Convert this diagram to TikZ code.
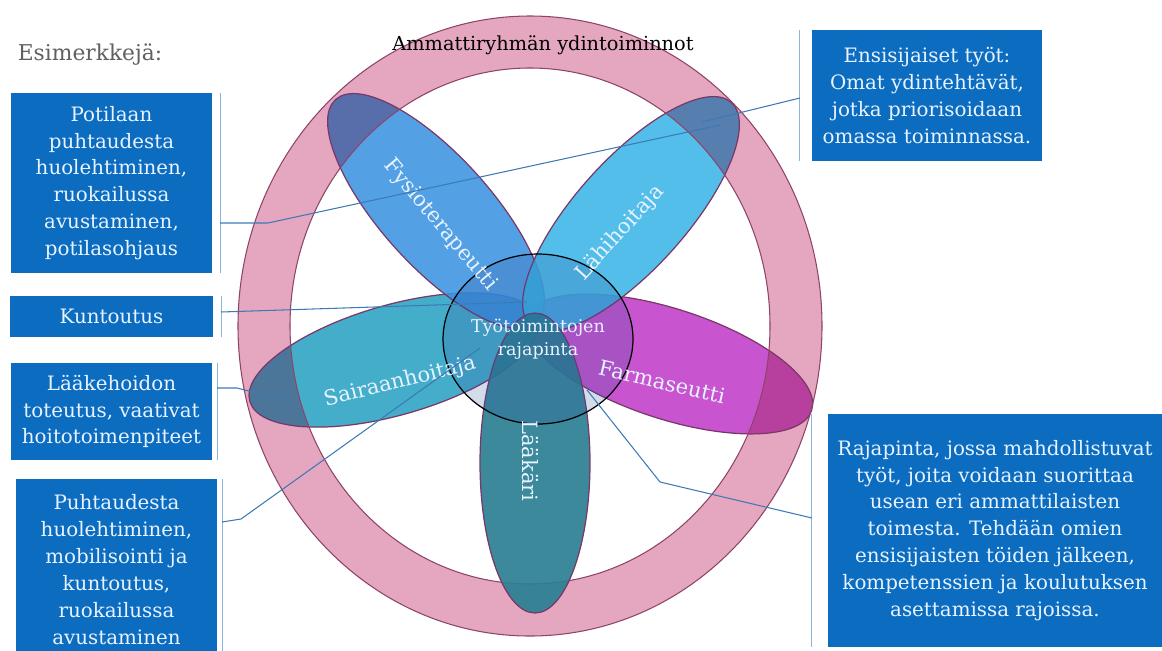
\documentclass[tikz,border=0pt]{standalone}
\usepackage{fontspec}
\setmainfont{DejaVu Serif}
\usepackage{tikz}
\usetikzlibrary{shapes.geometric}

\definecolor{boxblue}{HTML}{0B6CC0}
\definecolor{boxtext}{HTML}{E8F3FF}
\definecolor{ringpink}{HTML}{E4A7BF}
\definecolor{ringline}{HTML}{8E4468}
\definecolor{petalline}{HTML}{7A3868}
\definecolor{fysioC}{HTML}{3B93E0}
\definecolor{lahiC}{HTML}{3AB5E6}
\definecolor{sairC}{HTML}{2AA2C2}
\definecolor{farmaC}{HTML}{C13CC9}
\definecolor{laakC}{HTML}{2A7F93}
\definecolor{coreC}{HTML}{2A4C9A}
\definecolor{leaderC}{HTML}{3D79B5}
\definecolor{barC}{HTML}{8DB6DA}
\definecolor{noteC}{HTML}{606060}

\begin{document}
\begin{tikzpicture}[
    x=0.02cm, y=-0.02cm,
    box/.style    = {rectangle, fill=boxblue, text=boxtext, inner sep=0pt,
                     align=center, font=\fontsize{11.3}{15.3}\selectfont},
    petal/.style  = {ellipse, draw=petalline, line width=0.7pt, fill opacity=0.88,
                     inner sep=0pt, minimum width=6cm, minimum height=2.2cm},
    plbl/.style   = {text=boxtext, inner sep=0pt, font=\fontsize{12}{14}\selectfont},
    ringpath/.style = {draw=ringline, line width=0.6pt},
    leader/.style = {draw=leaderC, line width=0.6pt},
    bar/.style    = {draw=barC, line width=0.9pt}
]
\useasboundingbox (0,0) rectangle (1162,650);

% ring of core functions
\coordinate (ringc) at (530,326);
\fill[ringpink, even odd rule] (ringc) ellipse [x radius=292, y radius=310]
                               (ringc) ellipse [x radius=240, y radius=258];

% petals
\node[petal, fill=farmaC, rotate=-18] (farma) at (669,364) {};
\node[petal, fill=sairC,  rotate=16]  (sair)  at (394,360) {};
\node[petal, fill=fysioC, rotate=-48] (fysio) at (436,211) {};
\node[petal, fill=lahiC,  rotate=48]  (lahi)  at (631,214) {};

% petal ends tinted where they lie on the ring
\begin{scope}[even odd rule]
  \clip (ringc) ellipse [x radius=292, y radius=310]
        (ringc) ellipse [x radius=240, y radius=258];
  \fill[ringpink] (200,0) rectangle (860,650);
  \foreach \p/\c/\a in {farma/farmaC/-18, sair/sairC/16, fysio/fysioC/-48, lahi/lahiC/48} {
    \fill[\c, blend mode=multiply, fill opacity=0.8, rotate around={\a:(\p.center)}]
      (\p.center) ellipse [x radius=150, y radius=55];
    \draw[petalline, line width=0.7pt, rotate around={\a:(\p.center)}]
      (\p.center) ellipse [x radius=150, y radius=55];
  }
\end{scope}
\draw[ringpath] (ringc) ellipse [x radius=292, y radius=310];
\draw[ringpath] (ringc) ellipse [x radius=240, y radius=258];
\node[font=\fontsize{11}{13}\selectfont] (title) at (543,45) {Ammattiryhmän ydintoiminnot};

\node[petal, fill=laakC, rotate=90, fill opacity=0.92] (laak) at (535,463) {};

\node[ellipse, draw=black, line width=0.7pt, fill=coreC, fill opacity=0.2, text opacity=1,
      text=boxtext, inner sep=0pt, minimum width=3.8cm, minimum height=3.4cm, align=center,
      font=\fontsize{10}{13}\selectfont] (core) at (538,339) {Työtoimintojen\\rajapinta};

\node[plbl, rotate=-50] (fysio-t) at (440,225) {Fysioterapeutti};
\node[plbl, rotate=48]  (lahi-t)  at (620,233) {Lähihoitaja};
\node[plbl, rotate=14]  (sair-t)  at (400,382) {Sairaanhoitaja};
\node[plbl, rotate=-13] (farma-t) at (662,382) {Farmaseutti};
\node[plbl, rotate=-90] (laak-t)  at (530,461) {Lääkäri};

% example boxes
\node[text=noteC, font=\fontsize{12.4}{15}\selectfont] (esim) at (90,55) {Esimerkkejä:};
\node[box, minimum width=4.02cm, minimum height=3.6cm] (pot) at (111.5,183)
    {Potilaan\\puhtaudesta\\huolehtiminen,\\ruokailussa\\avustaminen,\\potilasohjaus};
\node[box, minimum width=4.06cm, minimum height=0.82cm] (kunt) at (111.5,316.5) {Kuntoutus};
\node[box, minimum width=4.02cm, minimum height=1.94cm] (laake) at (111.5,411.5)
    {Lääkehoidon\\toteutus, vaativat\\hoitotoimenpiteet};
\node[box, minimum width=4.02cm, minimum height=3.62cm] (puht) at (116.5,569.5)
    {Puhtaudesta\\huolehtiminen,\\mobilisointi ja\\kuntoutus,\\ruokailussa\\avustaminen};
\node[box, minimum width=4.6cm, minimum height=2.62cm] (ens) at (927,95.5)
    {Ensisijaiset työt:\\Omat ydintehtävät,\\jotka priorisoidaan\\omassa toiminnassa.};
\node[box, minimum width=6.68cm, minimum height=4.66cm] (raja) at (995,530.5)
    {Rajapinta, jossa mahdollistuvat\\työt, joita voidaan suorittaa\\usean eri ammattilaisten\\toimesta. Tehdään omien\\ensisijaisten töiden jälkeen,\\kompetenssien ja koulutuksen\\asettamissa rajoissa.};

% bars beside the boxes
\draw[bar] ([xshift=0.16cm]pot.north east) -- ([xshift=0.16cm]pot.south east);
\draw[bar] ([xshift=0.16cm]kunt.north east) -- ([xshift=0.16cm]kunt.south east);
\draw[bar] ([xshift=0.1cm]laake.north east) -- ([xshift=0.1cm]laake.south east);
\draw[bar] ([xshift=0.1cm]puht.north east) -- ([xshift=0.1cm]puht.south east);
\draw[bar] ([xshift=-0.24cm]ens.north west) -- ([xshift=-0.24cm]ens.south west);
\draw[bar] ([xshift=-0.32cm]raja.north west) -- ([xshift=-0.32cm]raja.south west);

% leader lines
\coordinate (pot-a) at (220,223);   \coordinate (pot-b) at (268,223);   \coordinate (pot-c) at (720,125);
\coordinate (kunt-a) at (221,312);  \coordinate (kunt-c) at (527,302);
\coordinate (laake-a) at (217,388); \coordinate (laake-b) at (237,388); \coordinate (laake-c) at (280,399);
\coordinate (puht-a) at (222,522);  \coordinate (puht-b) at (241,519);  \coordinate (puht-c) at (480,348);
\coordinate (ens-a) at (800,98);    \coordinate (ens-c) at (702,122);
\coordinate (raja-a) at (812,518);  \coordinate (raja-b) at (660,482);  \coordinate (raja-c) at (587,390);
\draw[leader] (pot-a) -- (pot-b) -- (pot-c);
\draw[leader] (kunt-a) -- (kunt-c);
\draw[leader] (laake-a) -- (laake-b) -- (laake-c);
\draw[leader] (puht-a) -- (puht-b) -- (puht-c);
\draw[leader] (ens-a) -- (ens-c);
\draw[leader] (raja-a) -- (raja-b) -- (raja-c);
\end{tikzpicture}
\end{document}
